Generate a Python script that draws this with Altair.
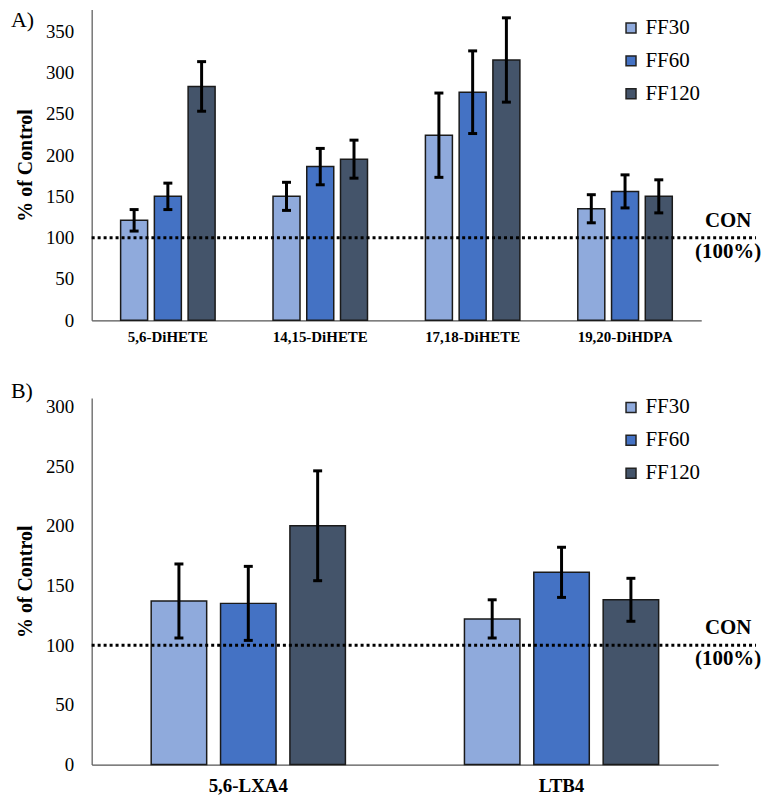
import altair as alt
import pandas as pd

series_names = ["FF30", "FF60", "FF120"]
series_colors = ["#8FAADC", "#4472C4", "#44546A"]

# Panel A
cats_A = ["5,6-DiHETE", "14,15-DiHETE", "17,18-DiHETE", "19,20-DiHDPA"]
ff30_A = [121, 150, 224, 135]
ff30_A_err = [13, 17, 51, 17]
ff60_A = [150, 186, 276, 156]
ff60_A_err = [16, 22, 50, 20]
ff120_A = [283, 195, 315, 150]
ff120_A_err = [30, 23, 51, 20]
yticks_A = [0, 50, 100, 150, 200, 250, 300, 350]

# Panel B
cats_B = ["5,6-LXA4", "LTB4"]
ff30_B = [137, 122]
ff30_B_err = [31, 16]
ff60_B = [135, 161]
ff60_B_err = [31, 21]
ff120_B = [200, 138]
ff120_B_err = [46, 18]
yticks_B = [0, 50, 100, 150, 200, 250, 300]

control_level = [100]
FONT = "Liberation Serif"


def make_panel(tag, tag_y, cats, vals, errs, w, h, ymax, yticks, legend_xy,
               con_x, rule_end, xlab_size, xlab_pad):
    rows = []
    for i, c in enumerate(cats):
        for s, v, e in zip(series_names, vals, errs):
            rows.append(dict(cat=c, series=s, value=v[i], lo=v[i] - e[i], hi=v[i] + e[i]))
    df = pd.DataFrame(rows)

    xscale = alt.Scale(paddingInner=0.38, paddingOuter=0.19)
    xaxis = alt.Axis(title=None, labelFont=FONT, labelFontWeight="bold",
                     labelFontSize=xlab_size, labelColor="black", ticks=False,
                     domainColor="#555", domainWidth=1.2, labelPadding=xlab_pad,
                     labelAngle=0)
    xenc = alt.X("cat:N", sort=cats, scale=xscale, axis=xaxis)
    xo = alt.XOffset("series:N", sort=series_names,
                     scale=alt.Scale(paddingInner=0.2, paddingOuter=0))
    yscale = alt.Scale(domain=[0, ymax], nice=False)
    yaxis = alt.Axis(title="% of Control", values=yticks, grid=False, ticks=False,
                     domainColor="#555", domainWidth=1.2, labelFont=FONT,
                     labelFontSize=19, labelColor="black", labelPadding=18,
                     titleFont=FONT, titleFontSize=20, titleFontWeight="bold",
                     titleColor="black", titlePadding=10)
    color = alt.Color("series:N", sort=series_names,
                      scale=alt.Scale(domain=series_names, range=series_colors),
                      legend=alt.Legend(orient="none", legendX=legend_xy[0],
                                        legendY=legend_xy[1], title=None,
                                        symbolType="square", symbolSize=100,
                                        symbolStrokeColor="#222",
                                        symbolStrokeWidth=1.5, labelFont=FONT,
                                        labelFontSize=21, labelColor="black",
                                        rowPadding=11, labelOffset=4, padding=0))

    base = alt.Chart(df)
    bars = base.mark_bar(stroke="#1a1a1a", strokeWidth=1.5).encode(
        x=xenc, xOffset=xo,
        y=alt.Y("value:Q", scale=yscale, axis=yaxis), color=color)
    rules = base.mark_rule(color="black", strokeWidth=3).encode(
        x=xenc, xOffset=xo,
        y=alt.Y("lo:Q", scale=yscale, axis=yaxis), y2="hi:Q")
    caps_hi = base.mark_tick(color="black", thickness=3, size=9,
                             orient="horizontal", opacity=1).encode(
        x=xenc, xOffset=xo, y=alt.Y("hi:Q", scale=yscale, axis=yaxis))
    caps_lo = base.mark_tick(color="black", thickness=3, size=9,
                             orient="horizontal", opacity=1).encode(
        x=xenc, xOffset=xo, y=alt.Y("lo:Q", scale=yscale, axis=yaxis))

    ref_df = pd.DataFrame({"y": control_level})
    refline = alt.Chart(ref_df).mark_rule(
        strokeDash=[3, 3], strokeWidth=3, color="black").encode(
        y=alt.Y("y:Q", scale=yscale, axis=yaxis),
        x=alt.value(0), x2=alt.value(rule_end))
    con1 = alt.Chart(ref_df).mark_text(
        font=FONT, fontSize=21, fontWeight="bold", color="black",
        align="center", baseline="middle", dy=-17).encode(
        y=alt.Y("y:Q", scale=yscale, axis=yaxis), x=alt.value(con_x),
        text=alt.value("CON"))
    con2 = alt.Chart(ref_df).mark_text(
        font=FONT, fontSize=21, fontWeight="bold", color="black",
        align="center", baseline="middle", dy=14).encode(
        y=alt.Y("y:Q", scale=yscale, axis=yaxis), x=alt.value(con_x),
        text=alt.value("(100%)"))
    tag_txt = alt.Chart(pd.DataFrame({"t": [tag]})).mark_text(
        font=FONT, fontSize=22, color="black", align="left",
        baseline="middle").encode(
        x=alt.value(-81), y=alt.value(tag_y), text="t:N")

    return alt.layer(bars, rules, caps_hi, caps_lo, refline, con1, con2,
                     tag_txt).properties(width=w, height=h)


panel_A = make_panel("A)", 11, cats_A, [ff30_A, ff60_A, ff120_A],
                     [ff30_A_err, ff60_A_err, ff120_A_err],
                     612, 312, 376, yticks_A, (531, 8), 639, 667, 15, 9)
panel_B = make_panel("B)", -7, cats_B, [ff30_B, ff60_B, ff120_B],
                     [ff30_B_err, ff60_B_err, ff120_B_err],
                     629, 368, 307, yticks_B, (531, -1), 639, 667, 19, 12)

chart = alt.vconcat(panel_A, panel_B, spacing=36).resolve_scale(
    color="independent", x="independent", xOffset="independent",
    y="independent").properties(
    padding={"left": 3, "top": 0, "right": 0, "bottom": 0}, background="white"
).configure(font=FONT).configure_view(stroke=None).configure_axis(
    labelFont=FONT, titleFont=FONT
).configure_axisY(labelFontSize=19, labelFont=FONT, titleFont=FONT,
                  titleFontSize=20, titleFontWeight="bold"
).configure_legend(labelFont=FONT, labelFontSize=21)

chart.save("out.html", embed_options={"renderer": "svg", "actions": False})
